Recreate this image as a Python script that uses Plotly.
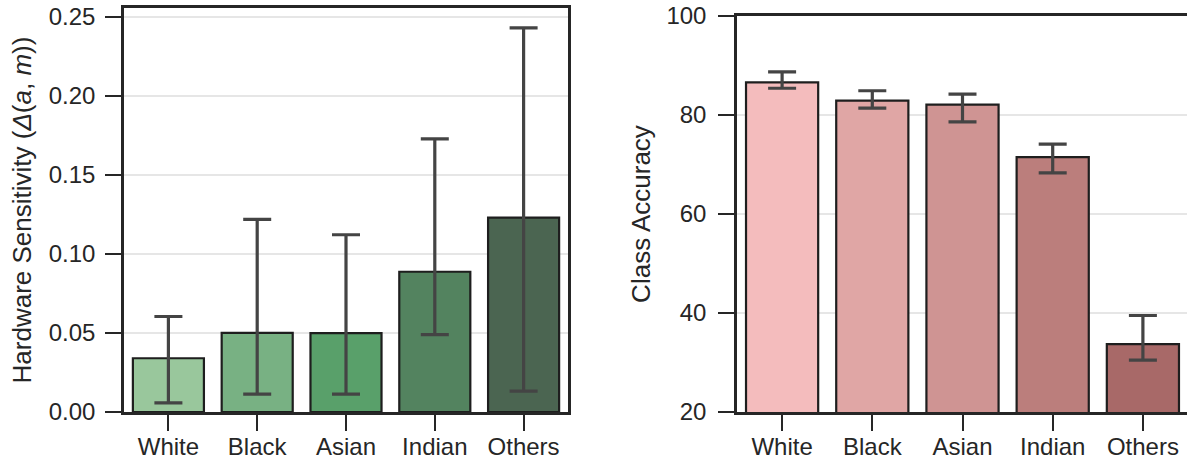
import plotly.graph_objects as go

categories = ["White", "Black", "Asian", "Indian", "Others"]

# Left: hardware sensitivity
sens_mean = [0.034, 0.0501, 0.0499, 0.0887, 0.1229]
sens_hi = [0.0604, 0.1218, 0.1121, 0.1727, 0.2429]
sens_lo = [0.0058, 0.0113, 0.0113, 0.0489, 0.0132]
green_colors = ["#99c79c", "#78b183", "#59a06a", "#53835f", "#4b6551"]

# Right: class accuracy
acc_mean = [86.6, 82.9, 82.1, 71.5, 33.7]
acc_hi = [88.7, 84.9, 84.2, 74.1, 39.5]
acc_lo = [85.4, 81.4, 78.6, 68.3, 30.5]
pink_colors = ["#f4bcbd", "#e0a6a5", "#cf9493", "#bb7e7c", "#a86968"]

left_ticks = [0.00, 0.05, 0.10, 0.15, 0.20, 0.25]
left_ticktext = ["0.00", "0.05", "0.10", "0.15", "0.20", "0.25"]
right_ticks = [20, 40, 60, 80, 100]

W, H = 1187, 464
FONT = "Liberation Sans, Arial, sans-serif"
TXT = "#262626"
SPINE = "#262626"

fig = go.Figure()

fig.add_trace(go.Bar(
    x=categories, y=sens_mean, xaxis="x", yaxis="y",
    width=0.8,
    marker=dict(color=green_colors, line=dict(color="#1e1e1e", width=2.2)),
    error_y=dict(type="data", symmetric=False,
                 array=[h - m for h, m in zip(sens_hi, sens_mean)],
                 arrayminus=[m - l for m, l in zip(sens_mean, sens_lo)],
                 color="#444444", thickness=3.2, width=14),
    showlegend=False,
))

fig.add_trace(go.Bar(
    x=categories, y=acc_mean, xaxis="x2", yaxis="y2",
    width=0.8,
    marker=dict(color=pink_colors, line=dict(color="#1e1e1e", width=2.2)),
    error_y=dict(type="data", symmetric=False,
                 array=[h - m for h, m in zip(acc_hi, acc_mean)],
                 arrayminus=[m - l for m, l in zip(acc_mean, acc_lo)],
                 color="#444444", thickness=3.2, width=14),
    showlegend=False,
))

def px(xp):
    return xp / W

def py(yp):
    return (H - yp) / H

axis_common = dict(
    showline=True, linecolor=SPINE, linewidth=2.5,
    ticks="outside", ticklen=16, tickwidth=2, tickcolor=SPINE,
    tickfont=dict(family=FONT, size=24, color=TXT),
    zeroline=False, automargin=False, ticklabeloverflow="allow",
)

fig.update_layout(
    width=W, height=H,
    margin=dict(l=0, r=0, t=0, b=0),
    paper_bgcolor="white", plot_bgcolor="white",
    font=dict(family=FONT, color=TXT),
    bargap=0.2,
    xaxis=dict(domain=[px(124), px(568)], anchor="y", range=[-0.5, 4.5],
               mirror=True, showgrid=False, ticklabelstandoff=-5, **axis_common),
    yaxis=dict(domain=[py(412), py(8)], anchor="x", range=[0, 0.2555],
               tickvals=left_ticks, ticktext=left_ticktext,
               mirror=True, showgrid=True, gridcolor="#e6e6e6", gridwidth=1.6,
               ticklabelstandoff=5,
               title=dict(text="Hardware Sensitivity (<i>Δ</i>(<i>a</i>, <i>m</i>))",
                          font=dict(family=FONT, size=26, color=TXT), standoff=10),
               **axis_common),
    xaxis2=dict(domain=[px(737), 1.0], anchor="y2", range=[-0.5, 4.5 - 1.0 / 90],
                mirror=True, showgrid=False, ticklabelstandoff=-5, **axis_common),
    yaxis2=dict(domain=[py(412), py(16)], anchor="x2", range=[20, 100],
                tickvals=right_ticks,
                mirror=False, showgrid=True, gridcolor="#e6e6e6", gridwidth=1.6,
                ticklabelstandoff=7,
                title=dict(text="Class Accuracy",
                           font=dict(family=FONT, size=26, color=TXT), standoff=9),
                **axis_common),
)

fig.write_html("out.html",
               config={"displayModeBar": False},
               post_script="document.body.style.margin='0';document.body.style.overflow='hidden';")
